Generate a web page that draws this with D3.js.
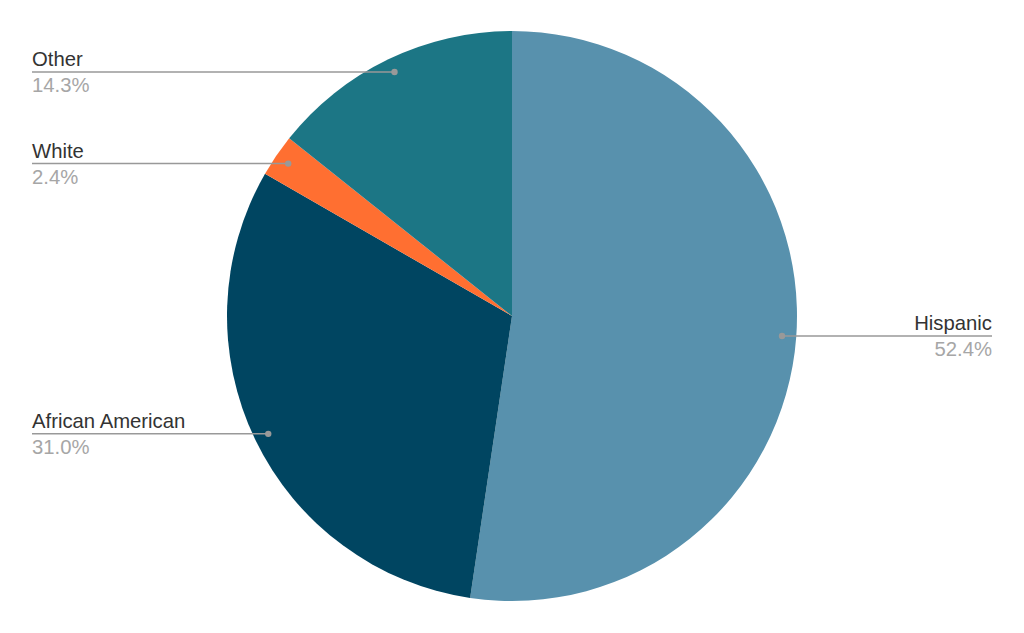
<!DOCTYPE html>
<html><head><meta charset="utf-8">
<script src="https://cdn.jsdelivr.net/npm/d3@7"></script>
<style>body{margin:0;background:#fff}svg{display:block}</style>
</head><body>
<svg id="c" width="1024" height="633"></svg>
<script>
const categories = ["Hispanic", "African American", "White", "Other"];
const values = [52.4, 31.0, 2.4, 14.3];
const colors = ["#5891AD", "#004561", "#FF6F31", "#1C7685"];

const svg = d3.select("#c");
const cx = 512, cy = 316, R = 285;
const g = svg.append("g").attr("transform", `translate(${cx},${cy})`);
const data = categories.map((c, i) => ({name: c, value: values[i], color: colors[i]}));
const pie = d3.pie().value(d => d.value).sort(null);
const arcs = pie(data);
const arc = d3.arc().innerRadius(0).outerRadius(R);
g.selectAll("path").data(arcs).join("path").attr("d", arc).attr("fill", d => d.data.color);

const dotR = R * 0.95;
arcs.forEach(a => {
  const m = (a.startAngle + a.endAngle) / 2;
  const x = Math.sin(m) * dotR, y = -Math.cos(m) * dotR;
  const px = cx + x, py = cy + y;
  const right = x > 0;
  const lx = right ? 992 : 32;
  svg.append("line").attr("x1", px).attr("y1", py).attr("x2", lx).attr("y2", py)
    .attr("stroke", "#999").attr("stroke-width", 1.5);
  svg.append("circle").attr("cx", px).attr("cy", py).attr("r", 3.2).attr("fill", "#999");
  const anchor = right ? "end" : "start";
  svg.append("text").attr("x", lx).attr("y", py - 6).attr("text-anchor", anchor)
    .attr("font-family", "'Liberation Sans', Arial, sans-serif").attr("font-size", 20.3).attr("fill", "#333")
    .text(a.data.name);
  svg.append("text").attr("x", lx).attr("y", py + 20).attr("text-anchor", anchor)
    .attr("font-family", "'Liberation Sans', Arial, sans-serif").attr("font-size", 20.3).attr("fill", "#a6a6a6")
    .text(d3.format(".1f")(a.data.value) + "%");
});
</script>
</body></html>
